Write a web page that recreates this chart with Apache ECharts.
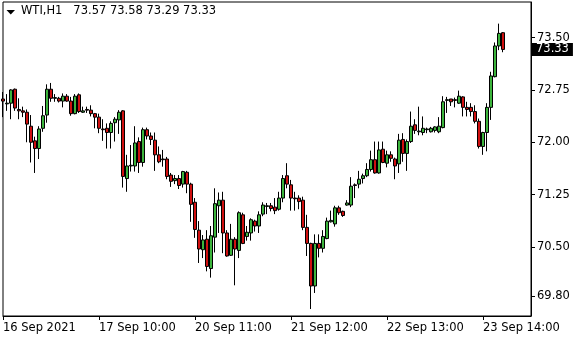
<!DOCTYPE html>
<html>
<head>
<meta charset="utf-8">
<script src="https://cdn.jsdelivr.net/npm/echarts@6/dist/echarts.min.js"></script>
<style>html,body{margin:0;padding:0;background:#fff;}#c{width:580px;height:340px;}</style>
</head>
<body>
<div id="c"></div>
<script>
const symbolTitle = 'WTI,H1';
const tickEvery = 24;               // hourly bars between time labels
const tickLabels = ['16 Sep 2021', '17 Sep 10:00', '20 Sep 11:00', '21 Sep 12:00', '22 Sep 13:00', '23 Sep 14:00'];
const priceTicks = [69.80, 70.50, 71.25, 72.00, 72.75, 73.50];
const lastPrice = 73.33;

const opens = [72.62,72.55,72.56,72.76,72.47,72.45,72.43,72.23,72.02,71.91,72.20,72.39,72.76,72.63,72.63,72.59,72.66,72.59,72.41,72.68,
72.43,72.47,72.46,72.41,72.36,72.19,72.20,72.14,72.28,72.32,72.45,71.48,71.66,71.66,72.01,71.71,72.18,72.09,72.03,71.82,
71.76,71.76,71.53,71.45,71.48,71.40,71.57,71.40,71.14,70.74,70.46,70.61,70.19,70.64,71.09,71.17,70.70,70.38,70.61,70.45,
70.96,70.65,70.70,70.87,70.80,70.97,71.08,71.09,71.07,71.04,71.20,71.52,71.39,71.20,71.20,71.17,70.78,70.55,69.94,70.55,
70.48,70.62,70.86,70.83,71.06,71.01,71.10,71.10,71.39,71.40,71.48,71.52,71.61,71.75,71.56,71.90,71.70,71.82,71.76,71.69,
72.04,71.84,72.01,72.25,72.15,72.14,72.18,72.15,72.17,72.15,72.21,72.60,72.62,72.61,72.56,72.65,72.50,72.50,72.44,72.30,
71.94,72.14,72.50,72.94,73.38,73.57];
const closes = [72.59,72.56,72.75,72.49,72.45,72.43,72.26,72.00,71.91,72.19,72.38,72.76,72.63,72.64,72.59,72.66,72.59,72.41,72.66,72.44,
72.45,72.46,72.41,72.36,72.20,72.18,72.14,72.27,72.33,72.43,71.51,71.66,71.67,71.99,71.71,72.18,72.09,72.04,71.82,71.72,
71.75,71.51,71.44,71.48,71.38,71.58,71.40,71.11,70.75,70.47,70.60,70.22,70.66,71.12,71.17,70.70,70.37,70.61,70.47,70.99,
70.55,70.71,70.89,70.80,70.96,71.10,71.09,71.05,71.02,71.20,71.48,71.40,71.20,71.19,71.15,70.78,70.55,69.94,70.55,70.48,
70.65,70.87,70.88,71.06,70.99,70.95,71.13,71.37,71.38,71.47,71.52,71.61,71.75,71.56,71.89,71.71,71.82,71.77,71.66,72.03,
71.84,72.01,72.23,72.17,72.16,72.20,72.19,72.20,72.22,72.23,72.58,72.61,72.58,72.60,72.66,72.50,72.47,72.44,72.30,71.94,
72.14,72.50,72.95,73.38,73.56,73.33];
const lows = [72.36,72.45,72.33,72.45,72.33,72.36,72.00,71.71,71.56,71.76,72.15,72.28,72.58,72.58,72.57,72.50,72.58,72.38,72.40,72.42,
72.42,72.42,72.37,72.20,72.13,72.02,71.91,71.91,72.01,72.12,71.35,71.29,71.58,71.58,71.56,71.65,72.04,71.96,71.59,71.70,
71.65,71.47,71.36,71.40,71.33,71.35,71.27,70.86,70.63,70.27,70.34,70.15,70.06,70.42,70.70,70.41,70.36,70.37,69.95,70.34,
70.54,70.59,70.59,70.72,70.70,70.94,70.97,71.01,70.97,71.02,71.14,71.34,71.02,71.02,71.04,70.74,70.37,69.61,69.84,70.35,
70.42,70.61,70.85,70.79,70.96,70.93,71.09,71.07,71.20,71.34,71.41,71.50,71.58,71.55,71.55,71.70,71.64,71.72,71.47,71.56,
71.72,71.59,71.99,72.12,72.10,72.10,72.13,72.14,72.14,72.13,72.20,72.42,72.52,72.50,72.55,72.37,72.37,72.37,72.27,71.91,
71.82,71.87,72.32,72.93,73.32,73.29];
const highs = [72.72,72.69,72.76,72.77,72.63,72.51,72.47,72.39,72.08,72.23,72.52,72.83,72.85,72.69,72.65,72.70,72.69,72.65,72.69,72.70,
72.51,72.51,72.53,72.42,72.41,72.33,72.27,72.30,72.36,72.46,72.46,71.82,71.96,72.23,72.07,72.21,72.21,72.14,72.14,71.94,
71.89,71.79,71.56,71.53,71.53,71.59,71.59,71.42,71.20,70.87,70.67,70.74,70.80,71.34,71.28,71.29,70.74,70.83,70.64,71.01,
70.99,70.80,70.91,70.89,71.01,71.14,71.13,71.13,71.20,71.29,71.53,71.70,71.46,71.29,71.24,71.22,70.96,70.56,70.68,70.68,
70.74,70.92,71.02,71.09,71.09,71.02,71.17,71.50,71.41,71.59,71.55,71.70,71.88,72.01,72.01,72.01,71.88,71.87,71.78,72.12,
72.13,72.04,72.44,72.33,72.51,72.37,72.21,72.22,72.23,72.36,72.66,72.65,72.62,72.64,72.74,72.66,72.58,72.56,72.53,72.34,
72.15,72.56,73.01,73.43,73.70,73.58];

// bar index (hour slot) is the x value; the view shows 132 slots, the last 6 empty
const candleData = opens.map((o, i) => [i, o, closes[i], lows[i], highs[i]]);
const tickPositions = tickLabels.map((_, k) => k * tickEvery);
const lastO = opens[opens.length-1], lastC = closes[closes.length-1], lastL = lows[lows.length-1], lastH = highs[highs.length-1];

const FONT = 'DejaVu Sans';
const chart = echarts.init(document.getElementById('c'), null, {renderer: 'canvas'});
chart.setOption({
  animation: false,
  backgroundColor: '#ffffff',
  title: {
    text: symbolTitle + '   ' + [lastO, lastH, lastL, lastC].map(v => v.toFixed(2)).join(' '),
    left: 21, top: 5, padding: 0,
    textStyle: {fontFamily: FONT, fontSize: 11.5, fontWeight: 'normal', color: '#000'}
  },
  graphic: [{
    type: 'polygon', shape: {points: [[6.5, 10], [15, 10], [10.75, 14.5]]}, style: {fill: '#000'}
  }],
  grid: {left: 3, right: 49, top: 2, bottom: 24, show: true, borderColor: '#000', borderWidth: 1, backgroundColor: '#fff'},
  xAxis: {
    type: 'value', min: 0, max: 132,
    axisLine: {show: true, onZero: false, lineStyle: {color: '#000', width: 1}},
    axisTick: {show: true, length: 4, customValues: tickPositions, lineStyle: {color: '#000'}},
    axisLabel: {
      customValues: tickPositions, align: 'left', margin: 6, color: '#000', fontFamily: FONT, fontSize: 11.5,
      showMinLabel: true, showMaxLabel: true,
      formatter: v => tickLabels[Math.round(v / tickEvery)] || ''
    },
    splitLine: {show: false}
  },
  yAxis: {
    type: 'value', position: 'right', min: 69.51, max: 74.01, scale: true,
    axisLine: {show: true, onZero: false, lineStyle: {color: '#000', width: 1}},
    axisTick: {show: true, length: 4, customValues: priceTicks, lineStyle: {color: '#000'}},
    axisLabel: {customValues: priceTicks, margin: 6, color: '#000', fontFamily: FONT, fontSize: 11.5,
      formatter: v => Number(v).toFixed(2)},
    splitLine: {show: false}
  },
  series: [{
    type: 'candlestick',
    data: candleData,
    barWidth: 3,
    clip: true,
    itemStyle: {color: '#3CB43C', color0: '#D01010', borderColor: '#000', borderColor0: '#000', borderWidth: 1}
  }, {
    type: 'line',
    data: [],
    clip: false,
    markLine: {
      silent: true, symbol: 'none',
      lineStyle: {color: 'rgba(0,0,0,0)', width: 1},
      label: {show: true, position: 'end', distance: 1, formatter: lastPrice.toFixed(2),
        backgroundColor: '#000', color: '#fff', fontFamily: FONT, fontSize: 11.5, padding: [1, 4, 0, 4]},
      data: [{yAxis: lastPrice}]
    }
  }]
});
</script>
</body>
</html>
